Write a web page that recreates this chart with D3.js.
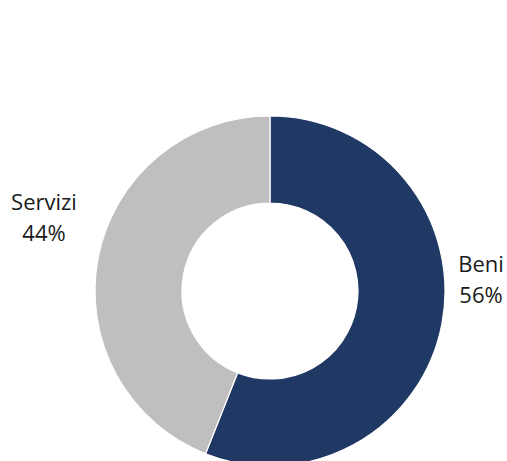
<!DOCTYPE html>
<html>
<head>
<meta charset="utf-8">
<script src="https://cdn.jsdelivr.net/npm/d3@7"></script>
<style>
  body { margin: 0; background: #fff; }
  svg text { font-family: "Open Sans", sans-serif; fill: #1a1a1a; }
</style>
</head>
<body>
<div class="chart"></div>
<script>
// CHART SIZE
var w = 507
var h = 461

// DATA
var categories = ['Beni', 'Servizi']
var shares = [56, 44]
var colors = ['#1F3864', '#BFBFBF']

var svg = d3.select(".chart").append('svg')
    .attr('width', w)
    .attr('height', h)

// DONUT GEOMETRY
var cx = 270, cy = 291
var outerR = 175, innerR = 88

var pie = d3.pie().sort(null).value(function(d){ return d.value })
var arc = d3.arc().innerRadius(innerR).outerRadius(outerR)

var data = categories.map(function(c, i){ return {name: c, value: shares[i], color: colors[i]} })
var arcs = pie(data)

var g = svg.append('g').attr('transform', 'translate(' + cx + ',' + cy + ')')

g.selectAll('path')
    .data(arcs)
    .enter().append('path')
    .attr('d', arc)
    .attr('fill', function(d){ return d.data.color })
    .attr('stroke', '#fff')
    .attr('stroke-width', 1.2)

// LABELS (placed outside the ring)
var labelPos = {
    'Beni':    {x: 481, y: 272},
    'Servizi': {x: 44,  y: 210}
}

var labels = svg.append('g').selectAll('text')
    .data(arcs)
    .enter().append('text')
    .attr('text-anchor', 'middle')
    .style('font-size', '22px')

labels.append('tspan')
    .attr('x', function(d){ return labelPos[d.data.name].x })
    .attr('y', function(d){ return labelPos[d.data.name].y })
    .text(function(d){ return d.data.name })

labels.append('tspan')
    .attr('x', function(d){ return labelPos[d.data.name].x })
    .attr('dy', 31)
    .text(function(d){ return d.data.value + '%' })
</script>
</body>
</html>
